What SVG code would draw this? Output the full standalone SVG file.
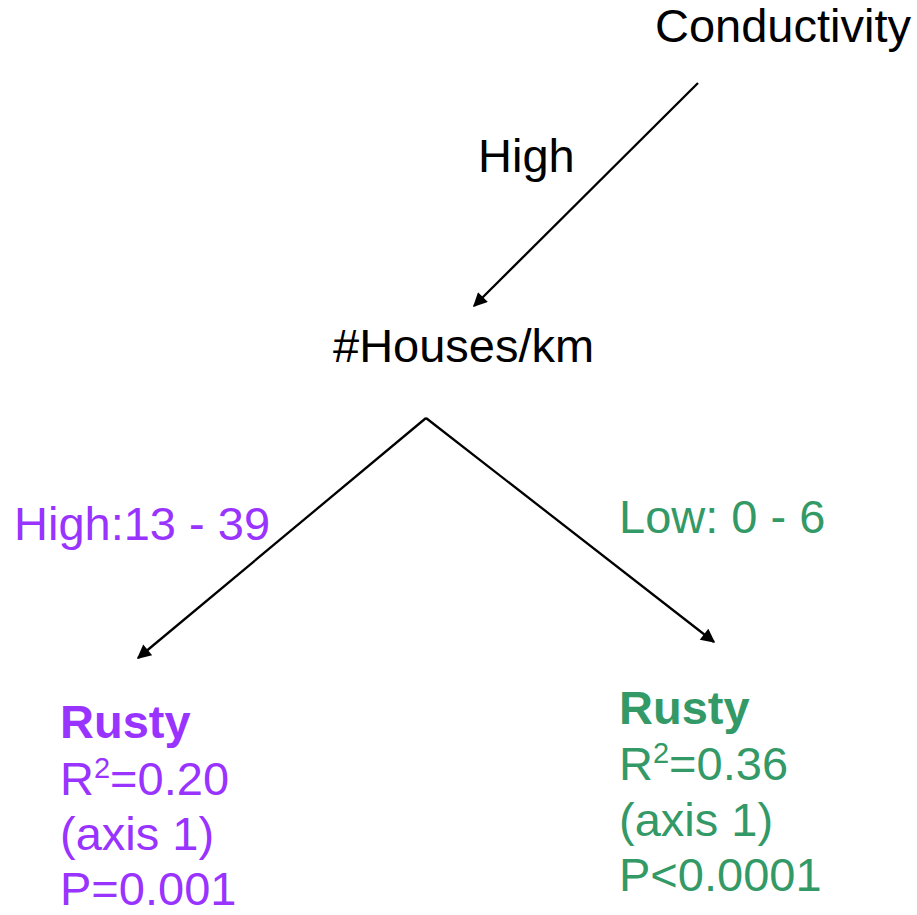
<svg xmlns="http://www.w3.org/2000/svg" width="917" height="915" viewBox="0 0 917 915">
<style>
text{font-family:"Liberation Sans",Arial,sans-serif;font-size:47px}
.k{fill:#000}
.p{fill:#9933FF}
.g{fill:#339966}
.b{font-weight:bold}
.c{stroke:#000;stroke-width:2.3;fill:none}
</style>
<defs>
<marker id="ah" viewBox="0 0 10 10" refX="9" refY="5" markerWidth="18" markerHeight="14" orient="auto" markerUnits="userSpaceOnUse">
<path d="M0,0 L10,5 L0,10 z" fill="#000"/>
</marker>
</defs>
<rect width="917" height="915" fill="#fff"/>
<g id="connectors">
<line class="c" x1="698" y1="83" x2="474" y2="306" marker-end="url(#ah)"/>
<line class="c" x1="426" y1="418" x2="138" y2="658" marker-end="url(#ah)"/>
<line class="c" x1="426" y1="418" x2="714" y2="642" marker-end="url(#ah)"/>
</g>
<g id="conductivity"><text class="k" x="655" y="42">Conductivity</text></g>
<g id="label-high"><text class="k" x="478" y="172">High</text></g>
<g id="houses"><text class="k" x="333" y="362">#Houses/km</text></g>
<g id="label-high-range"><text class="p" x="14" y="540">High:13 - 39</text></g>
<g id="label-low-range"><text class="g" x="619" y="533">Low: 0 - 6</text></g>
<g id="leaf-left">
<text class="p b" x="60" y="738">Rusty</text>
<text class="p" x="60" y="795">R<tspan font-size="29" dy="-17">2</tspan><tspan dy="17">=0.20</tspan></text>
<text class="p" x="60" y="850">(axis 1)</text>
<text class="p" x="60" y="905">P=0.001</text>
</g>
<g id="leaf-right">
<text class="g b" x="619" y="724">Rusty</text>
<text class="g" x="619" y="780">R<tspan font-size="29" dy="-17">2</tspan><tspan dy="17">=0.36</tspan></text>
<text class="g" x="619" y="836">(axis 1)</text>
<text class="g" x="619" y="891">P&lt;0.0001</text>
</g>
</svg>
